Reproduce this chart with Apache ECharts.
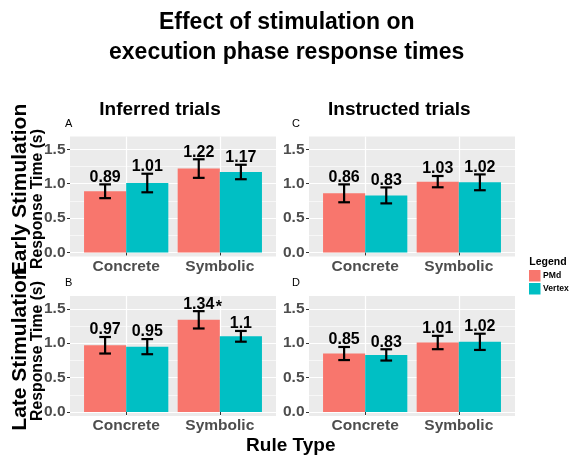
<!DOCTYPE html>
<html>
<head>
<meta charset="utf-8">
<script src="https://cdn.jsdelivr.net/npm/echarts@6/dist/echarts.min.js"></script>
<style>
html,body{margin:0;padding:0;background:#fff;}
#chart{width:570px;height:456px;}
</style>
</head>
<body>
<div id="chart"></div>
<script>
// ---------- data ----------
const categories = ['Concrete', 'Symbolic'];
const groups = ['PMd', 'Vertex'];
const groupColors = ['#F8766D', '#00BFC4'];

// Panel A: Early stimulation, Inferred trials
const earlyInferredPMd = [0.89, 1.22];
const earlyInferredPMdSE = [0.10, 0.135];
const earlyInferredVertex = [1.01, 1.17];
const earlyInferredVertexSE = [0.135, 0.105];

// Panel C: Early stimulation, Instructed trials
const earlyInstructedPMd = [0.86, 1.03];
const earlyInstructedPMdSE = [0.13, 0.082];
const earlyInstructedVertex = [0.83, 1.02];
const earlyInstructedVertexSE = [0.116, 0.115];

// Panel B: Late stimulation, Inferred trials
const lateInferredPMd = [0.97, 1.34];
const lateInferredPMdSE = [0.12, 0.126];
const lateInferredPMdSig = ['', '*'];
const lateInferredVertex = [0.95, 1.1];
const lateInferredVertexSE = [0.11, 0.078];

// Panel D: Late stimulation, Instructed trials
const lateInstructedPMd = [0.85, 1.01];
const lateInstructedPMdSE = [0.095, 0.097];
const lateInstructedVertex = [0.83, 1.02];
const lateInstructedVertexSE = [0.082, 0.118];

const yTicks = [0, 0.5, 1.0, 1.5];
const yTickLabels = ['0.0', '0.5', '1.0', '1.5'];

const titleLines = ['Effect of stimulation on', 'execution phase response times'];
const columnTitles = ['Inferred trials', 'Instructed trials'];
const rowTitles = ['Early Stimulation', 'Late Stimulation'];
const yAxisTitle = 'Response Time (s)';
const xAxisTitle = 'Rule Type';
const legendTitle = 'Legend';

// ---------- layout ----------
const FONT = 'Liberation Sans, Arial, Helvetica, sans-serif';
const colLeft = [70, 309];
const rowTop = [136.5, 296];
const panelW = 206, panelH = 120;
const yMin = -0.058, yMax = 1.686;
const xMin = 0.4, xMax = 2.6;
const dodge = 0.225;     // half of dodge width 0.9 / 2 groups
const capHalf = 0.0625;  // half error-bar cap width

const panels = [
  {letter: 'A', row: 0, col: 0,
   vals: [earlyInferredPMd, earlyInferredVertex],
   ses: [earlyInferredPMdSE, earlyInferredVertexSE],
   sigs: [null, null]},
  {letter: 'C', row: 0, col: 1,
   vals: [earlyInstructedPMd, earlyInstructedVertex],
   ses: [earlyInstructedPMdSE, earlyInstructedVertexSE],
   sigs: [null, null]},
  {letter: 'B', row: 1, col: 0,
   vals: [lateInferredPMd, lateInferredVertex],
   ses: [lateInferredPMdSE, lateInferredVertexSE],
   sigs: [lateInferredPMdSig, null]},
  {letter: 'D', row: 1, col: 1,
   vals: [lateInstructedPMd, lateInstructedVertex],
   ses: [lateInstructedPMdSE, lateInstructedVertexSE],
   sigs: [null, null]}
];

const catPos = categories.map((c, i) => i + 1);

const grids = [], xAxes = [], yAxes = [], series = [];
const graphics = [];

panels.forEach((p, pi) => {
  grids.push({
    left: colLeft[p.col], top: rowTop[p.row], width: panelW, height: panelH,
    show: true, backgroundColor: '#EBEBEB', borderWidth: 0, containLabel: false
  });
  xAxes.push({
    type: 'value', gridIndex: pi, min: xMin, max: xMax,
    axisLine: {show: false},
    axisTick: {show: true, length: 3, lineStyle: {color: '#333333', width: 1}, customValues: catPos},
    axisLabel: {show: true, customValues: catPos, margin: 2,
      formatter: v => categories[Math.round(v) - 1] || '',
      color: '#4D4D4D', fontSize: 15.5, fontWeight: 'bold', fontFamily: FONT},
    splitLine: {show: true, lineStyle: {color: '#FFFFFF', width: 1.2}},
    minorSplitLine: {show: false}
  });
  yAxes.push({
    type: 'value', gridIndex: pi, min: yMin, max: yMax, splitNumber: 3,
    axisLine: {show: false},
    axisTick: {show: true, length: 3, lineStyle: {color: '#333333', width: 1}, customValues: yTicks},
    axisLabel: {show: true, customValues: yTicks, margin: 4.5,
      formatter: v => { const k = yTicks.findIndex(t => Math.abs(t - v) < 1e-6); return k >= 0 ? yTickLabels[k] : ''; },
      color: '#4D4D4D', fontSize: 15.5, fontWeight: 'bold', fontFamily: FONT},
    splitLine: {show: true, lineStyle: {color: '#FFFFFF', width: 1.2}},
    minorTick: {show: false, splitNumber: 2},
    minorSplitLine: {show: true, lineStyle: {color: '#FFFFFF', width: 0.6}}
  });

  groups.forEach((g, gi) => {
    series.push({
      type: 'bar', name: g, xAxisIndex: pi, yAxisIndex: pi,
      barWidth: '45%', barGap: '0%',
      itemStyle: {color: groupColors[gi]},
      data: catPos.map((x, ci) => [x, p.vals[gi][ci]]),
      z: 2
    });
  });

  groups.forEach((g, gi) => {
    const off = gi === 0 ? -dodge : dodge;
    const vals = p.vals[gi], ses = p.ses[gi], sig = p.sigs[gi];
    series.push({
      type: 'custom', name: g + ' error', xAxisIndex: pi, yAxisIndex: pi,
      encode: {x: 0, y: [1, 2]},
      data: catPos.map((x, ci) => [x, vals[ci] - ses[ci], vals[ci] + ses[ci]]),
      z: 5, silent: true,
      renderItem: function (params, api) {
        const i = params.dataIndex;
        const xc = api.value(0) + off;
        const lo = api.value(1), hi = api.value(2);
        const top = api.coord([xc, hi]);
        const bot = api.coord([xc, lo]);
        const left = api.coord([xc - capHalf, hi])[0];
        const right = api.coord([xc + capHalf, hi])[0];
        const ls = {stroke: '#000', lineWidth: 2.2};
        const children = [
          {type: 'line', shape: {x1: top[0], y1: top[1], x2: bot[0], y2: bot[1]}, style: ls},
          {type: 'line', shape: {x1: left, y1: top[1], x2: right, y2: top[1]}, style: ls},
          {type: 'line', shape: {x1: left, y1: bot[1], x2: right, y2: bot[1]}, style: ls},
          {type: 'text', x: top[0], y: top[1] + 1,
           style: {text: String(vals[i]), textAlign: 'center', textVerticalAlign: 'bottom',
                   font: 'bold 16px ' + FONT, fill: '#000'}}
        ];
        if (sig && sig[i]) {
          children.push({type: 'text', x: top[0] + 17, y: top[1] - 3.5,
            style: {text: sig[i], textAlign: 'left', textVerticalAlign: 'middle',
                    font: 'bold 16px ' + FONT, fill: '#000'}});
        }
        return {type: 'group', children: children};
      }
    });
  });

  // panel letter
  graphics.push({type: 'text', x: colLeft[p.col] - 5 - (p.col ? 12 : 0), y: rowTop[p.row] - 13,
    style: {text: p.letter, font: '11px ' + FONT, fill: '#000', textVerticalAlign: 'middle'}});
});

// titles
graphics.push({type: 'text', x: 286.7, y: 22.5,
  style: {text: titleLines[0], font: 'bold 23px ' + FONT, fill: '#000', textAlign: 'center', textVerticalAlign: 'middle'}});
graphics.push({type: 'text', x: 286.7, y: 52.5,
  style: {text: titleLines[1], font: 'bold 23px ' + FONT, fill: '#000', textAlign: 'center', textVerticalAlign: 'middle'}});
graphics.push({type: 'text', x: 160, y: 109.3,
  style: {text: columnTitles[0], font: 'bold 19px ' + FONT, fill: '#000', textAlign: 'center', textVerticalAlign: 'middle'}});
graphics.push({type: 'text', x: 399.3, y: 109.3,
  style: {text: columnTitles[1], font: 'bold 19px ' + FONT, fill: '#000', textAlign: 'center', textVerticalAlign: 'middle'}});
// row titles (rotated)
const rowCenters = [[189.5, 199], [349, 351]];
rowTitles.forEach((t, r) => {
  graphics.push({type: 'text', x: 20, y: rowCenters[r][0], rotation: Math.PI / 2,
    style: {text: t, font: 'bold 21px ' + FONT, fill: '#000', textAlign: 'center', textVerticalAlign: 'middle'}});
  graphics.push({type: 'text', x: 37.5, y: rowCenters[r][1], rotation: Math.PI / 2,
    style: {text: yAxisTitle, font: 'bold 15.75px ' + FONT, fill: '#000', textAlign: 'center', textVerticalAlign: 'middle'}});
});
graphics.push({type: 'text', x: 290.8, y: 445.7,
  style: {text: xAxisTitle, font: 'bold 19px ' + FONT, fill: '#000', textAlign: 'center', textVerticalAlign: 'middle'}});
graphics.push({type: 'text', x: 529.3, y: 262.3,
  style: {text: legendTitle, font: 'bold 10.5px ' + FONT, fill: '#000', textAlign: 'left', textVerticalAlign: 'middle'}});

const chart = echarts.init(document.getElementById('chart'), null, {renderer: 'canvas'});
chart.setOption({
  animation: false,
  backgroundColor: '#FFFFFF',
  grid: grids,
  xAxis: xAxes,
  yAxis: yAxes,
  legend: {
    data: groups, orient: 'vertical', left: 529, top: 270, padding: 0,
    itemWidth: 11.5, itemHeight: 11.5, itemGap: 1.5, icon: 'rect',
    textStyle: {fontSize: 8.6, fontWeight: 'bold', color: '#000', fontFamily: FONT, padding: [0, 0, 0, -2.5]}
  },
  graphic: graphics,
  series: series
});
</script>
</body>
</html>
